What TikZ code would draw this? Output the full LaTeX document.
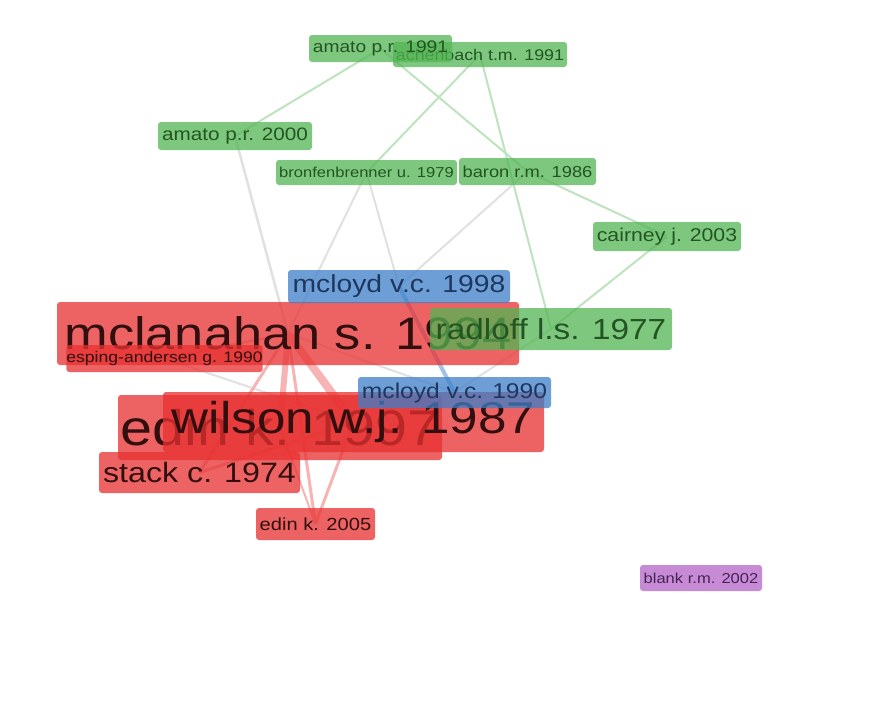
\documentclass[tikz,border=0pt]{standalone}
\usepackage{fontspec}
\setmainfont{Liberation Sans}[FakeStretch=1.15]
\pgfdeclarelayer{bg}
\pgfsetlayers{bg,main}
\definecolor{gfill}{RGB}{83,181,83}
\definecolor{gtext}{RGB}{35,85,35}
\definecolor{rfill}{RGB}{232,48,48}
\definecolor{rtext}{RGB}{50,15,15}
\definecolor{bfill}{RGB}{61,127,201}
\definecolor{btext}{RGB}{30,55,95}
\definecolor{pfill}{RGB}{181,101,201}
\definecolor{ptext}{RGB}{70,35,85}
\definecolor{gline}{RGB}{190,228,190}
\definecolor{xline}{RGB}{225,225,225}
\definecolor{rline}{RGB}{246,180,180}
\definecolor{bline}{RGB}{160,195,230}
\newcommand\lblfs[1]{\fontsize{#1}{#1}\selectfont}
\tikzset{
  lab/.style={rectangle, rounded corners=3pt, inner sep=0pt, fill opacity=0.75, text opacity=1, anchor=center},
  grn/.style={lab, fill=gfill, text=gtext},
  rd/.style={lab, fill=rfill, text=rtext},
  blu/.style={lab, fill=bfill, text=btext},
  pur/.style={lab, fill=pfill, text=ptext},
  gedge/.style={draw=gline, line width=2pt},
  xedge/.style={draw=xline, line width=2pt},
  redge/.style={draw=rline, line width=#1},
  bedge/.style={draw=bline, line width=4pt}
}
\begin{document}
\begin{tikzpicture}[x=1pt,y=-1pt]
\useasboundingbox (0,0) rectangle (881,707);
% nodes
\node[grn, minimum width=174pt, minimum height=25pt] (ach) at (480,54.5) {\lblfs{15.5}achenbach t.m. 1991};
\node[grn, minimum width=143pt, minimum height=27pt] (am91) at (380.5,48.5) {\lblfs{16.7}amato p.r. 1991};
\node[grn, minimum width=154pt, minimum height=28pt] (am00) at (235,136) {\lblfs{18}amato p.r. 2000};
\node[grn, minimum width=181pt, minimum height=25pt] (bro) at (366.5,172.5) {\lblfs{14.4}bronfenbrenner u. 1979};
\node[grn, minimum width=137pt, minimum height=27pt] (bar) at (527.5,171.5) {\lblfs{15.9}baron r.m. 1986};
\node[grn, minimum width=148pt, minimum height=29pt] (cai) at (667,236.5) {\lblfs{18.5}cairney j. 2003};
\node[rd, minimum width=462pt, minimum height=63pt] (mcl) at (288,333.5) {\lblfs{45.5}mclanahan s. 1994};
\node[blu, minimum width=222pt, minimum height=33pt] (m98) at (399,286.5) {\lblfs{24.6}mcloyd v.c. 1998};
\node[grn, minimum width=242pt, minimum height=42pt] (rad) at (551,329) {\lblfs{29}radloff l.s. 1977};
\node[rd, minimum width=195pt, minimum height=27pt] (esp) at (164.5,358.5) {\lblfs{15.3}esping-andersen g. 1990};
\node[rd, minimum width=324pt, minimum height=65pt] (ed97) at (280,427.5) {\lblfs{50}edin k. 1997};
\node[rd, minimum width=381pt, minimum height=60pt] (wil) at (353.5,422) {\lblfs{44.5}wilson w.j. 1987};
\node[blu, minimum width=193pt, minimum height=31pt] (m90) at (454.5,392.5) {\lblfs{21.4}mcloyd v.c. 1990};
\node[rd, minimum width=201pt, minimum height=41pt] (sta) at (199.5,472.5) {\lblfs{28}stack c. 1974};
\node[rd, minimum width=119pt, minimum height=32pt] (ed05) at (315.5,524) {\lblfs{17.5}edin k. 2005};
\node[pur, minimum width=122pt, minimum height=26pt] (bla) at (701,578) {\lblfs{14.4}blank r.m. 2002};
% edges
\begin{pgfonlayer}{bg}
\fill[white] (0,0) rectangle (881,707);
\draw[gedge] (am91.center) -- (am00.center);
\draw[gedge] (am91.center) -- (bar.center);
\draw[gedge] (ach.center) -- (bro.center);
\draw[gedge] (ach.center) -- (rad.center);
\draw[gedge] (bar.center) -- (cai.center);
\draw[gedge] (cai.center) -- (rad.center);
\draw[xedge, line width=2.5pt] (am00.center) -- (mcl.center);
\draw[xedge] (bro.center) -- (mcl.center);
\draw[xedge] (bro.center) -- (m98.center);
\draw[xedge] (bar.center) -- (m98.center);
\draw[xedge] (rad.center) -- (m90.center);
\draw[xedge] (mcl.center) -- (m90.center);
\draw[xedge] (esp.center) -- (wil.center);
\draw[bedge] (m98.center) -- (m90.center);
\draw[redge=8pt] (mcl.center) -- (wil.center);
\draw[redge=6pt] (mcl.center) -- (ed97.center);
\draw[redge=3pt] (mcl.center) -- (sta.center);
\draw[redge=3pt] (mcl.center) -- (ed05.center);
\draw[redge=3pt] (wil.center) -- (ed05.center);
\draw[redge=2pt] (ed97.center) -- (ed05.center);
\draw[redge=3pt] (wil.center) -- (sta.center);
\draw[redge=2pt] (mcl.center) -- (esp.center);
\end{pgfonlayer}
\end{tikzpicture}
\end{document}
